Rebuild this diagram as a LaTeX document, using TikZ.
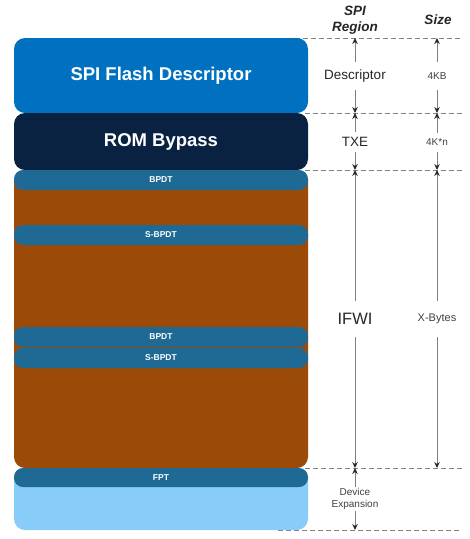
\documentclass[tikz,border=0pt]{standalone}
\usepackage{fontspec}
\setmainfont{Liberation Sans}
\usetikzlibrary{arrows.meta}
\definecolor{descblue}{HTML}{0070C0}
\definecolor{romnavy}{HTML}{0A2242}
\definecolor{ifwibrown}{HTML}{9C4A08}
\definecolor{bpdtblue}{HTML}{1F6A94}
\definecolor{expblue}{HTML}{88CDF9}
\tikzset{
  block/.style={rounded corners=11pt, minimum width=294pt, text=white, inner sep=0pt,
    font=\bfseries\fontsize{18.5}{20}\selectfont},
  bar/.style={rounded corners=9pt, fill=bpdtblue, minimum width=294pt, minimum height=20pt,
    text=white, inner sep=0pt, font=\bfseries\fontsize{8.5}{9}\selectfont},
  level/.style={draw=gray, dash pattern=on 5pt off 3pt, line width=0.7pt},
  dim/.style={draw=gray, line width=1pt, -{Stealth[length=6pt,width=5.5pt,black!85]}},
  regiontext/.style={font=\fontsize{13.5}{15}\selectfont, text=black!85, inner xsep=0pt, inner ysep=5pt},
  sizetext/.style={font=\fontsize{10}{12}\selectfont, text=black!75, inner xsep=0pt, inner ysep=8pt},
  headtext/.style={font=\bfseries\itshape\fontsize{13.5}{16}\selectfont, align=center, text=black!85},
}
\begin{document}
\begin{tikzpicture}[x=1pt,y=-1pt]
  \useasboundingbox (0,0) rectangle (470,539);
  % level lines
  \coordinate (l0) at (462,38);
  \coordinate (l1) at (462,113);
  \coordinate (l2) at (462,170);
  \coordinate (l3) at (462,468);
  \coordinate (l4) at (462,530);
  \draw[level] (287,38) -- (l0);
  \draw[level] (305,113) -- (l1);
  \draw[level] (305,170) -- (l2);
  \draw[level] (305,468) -- (l3);
  \draw[level] (278,530) -- (l4);
  % flash layout
  \node[block, fill=descblue, minimum height=75pt] (desc) at (161,75.5) {SPI Flash Descriptor};
  \node[block, fill=romnavy, minimum height=57pt] (rom) at (161,141.5) {ROM Bypass};
  \node[block, fill=ifwibrown, minimum height=298pt] (ifwiblk) at (161,319) {};
  \node[block, fill=expblue, minimum height=62pt] (expblk) at (161,499) {};
  \node[bar] (bpdt1) at (161,180) {BPDT};
  \node[bar] (sbpdt1) at (161,235) {S-BPDT};
  \node[bar] (bpdt2) at (161,337) {BPDT};
  \node[bar] (sbpdt2) at (161,358) {S-BPDT};
  \node[bar, minimum height=19pt] (fpt) at (161,477.5) {FPT};
  % headers
  \node[headtext] (hregion) at (355,20.5) {SPI\\Region};
  \node[headtext] (hsize) at (438,20) {Size};
  % region column
  \node[regiontext, inner ysep=8pt] (rdesc) at (355,76) {Descriptor};
  \node[regiontext] (rtxe) at (355,142) {TXE};
  \node[regiontext, font=\fontsize{16.5}{18}\selectfont, inner ysep=12pt] (rifwi) at (355,319) {IFWI};
  \node[sizetext, align=center, inner ysep=1pt] (rexp) at (355,499) {Device\\Expansion};
  \foreach \lab/\up/\dn in {rdesc/l0/l1, rtxe/l1/l2, rifwi/l2/l3, rexp/l3/l4} {
    \draw[dim] (\lab.north) -- (\lab.north |- \up);
    \draw[dim] (\lab.south) -- (\lab.south |- \dn);
  }
  % size column
  \node[sizetext, inner ysep=10pt] (s4kb) at (437,76) {4KB};
  \node[sizetext, inner ysep=6pt] (s4kn) at (437,142.5) {4K*n};
  \node[sizetext, font=\fontsize{11}{12}\selectfont, inner ysep=13pt] (sxb) at (437,319) {X-Bytes};
  \foreach \lab/\up/\dn in {s4kb/l0/l1, s4kn/l1/l2, sxb/l2/l3} {
    \draw[dim] (\lab.north) -- (\lab.north |- \up);
    \draw[dim] (\lab.south) -- (\lab.south |- \dn);
  }
\end{tikzpicture}
\end{document}
